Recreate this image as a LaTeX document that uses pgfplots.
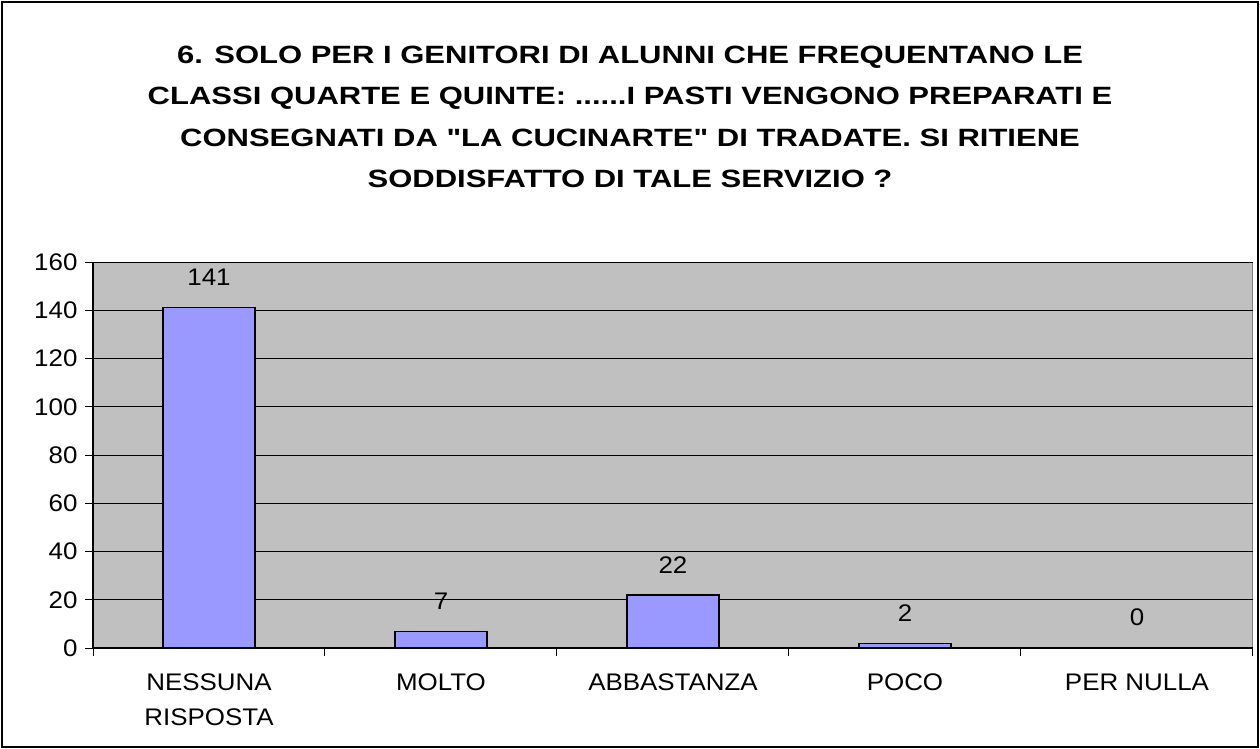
\documentclass[border=0pt]{standalone}
\usepackage{fontspec}
\setmainfont{Liberation Sans}[FakeStretch=1.08]
\newfontfamily\titlefont{Liberation Sans}[FakeStretch=1.24]
\usepackage{pgfplots}
\pgfplotsset{compat=1.18}
\definecolor{plotbg}{HTML}{C0C0C0}
\definecolor{barc}{HTML}{9999FF}
\newcommand\st{\rule{0pt}{18pt}}
\begin{document}
\begin{tikzpicture}
\path[use as bounding box] (0pt,0pt) rectangle (1260pt,-749pt);
\draw[line width=2pt] (2pt,-2pt) rectangle (1258pt,-747pt);
\node[align=center, font=\titlefont\fontsize{25}{41.5}\selectfont\bfseries] at (630pt,-117pt)
 {6. SOLO PER I GENITORI DI ALUNNI CHE FREQUENTANO LE\\CLASSI QUARTE E QUINTE: ......I PASTI VENGONO PREPARATI E\\CONSEGNATI DA \symbol{34}LA CUCINARTE\symbol{34} DI TRADATE. SI RITIENE\\SODDISFATTO DI TALE SERVIZIO ?};
\begin{axis}[at={(93pt,-648pt)}, anchor=south west, scale only axis,
  width=1160pt, height=386pt,
  ymin=0, ymax=160, ytick={0,20,...,160},
  xmin=-0.5, xmax=4.5,
  xtick={-0.5,0.5,...,4.5}, xticklabels={},
  extra x ticks={0,1,2,3,4},
  extra x tick labels={\st NESSUNA\\RISPOSTA,\st MOLTO,\st ABBASTANZA,\st POCO,\st PER NULLA},
  extra x tick style={major tick length=0pt, grid=none},
  xticklabel style={align=center, anchor=north, yshift=-21pt, font=\fontsize{24}{35}\selectfont},
  yticklabel style={font=\fontsize{24}{28}\selectfont, xshift=-4pt},
  /pgf/number format/assume math mode=true,
  major tick length=8pt, tick align=outside,
  axis x line*=bottom, axis y line*=left,
  ymajorgrids, grid style={black, line width=1pt},
  axis line style={black, line width=1.2pt, -},
  tick style={black, line width=1pt},
  axis background/.style={fill=plotbg, draw=gray, line width=1pt},
  ybar, bar width=92pt,
  nodes near coords,
  nodes near coords style={font=\fontsize{24}{28}\selectfont, black, yshift=18pt},
  clip=false,
]
\addplot[fill=barc, draw=black, line width=1.2pt] coordinates {(0,141) (1,7) (2,22) (3,2) (4,0)};
\end{axis}
\end{tikzpicture}
\end{document}
